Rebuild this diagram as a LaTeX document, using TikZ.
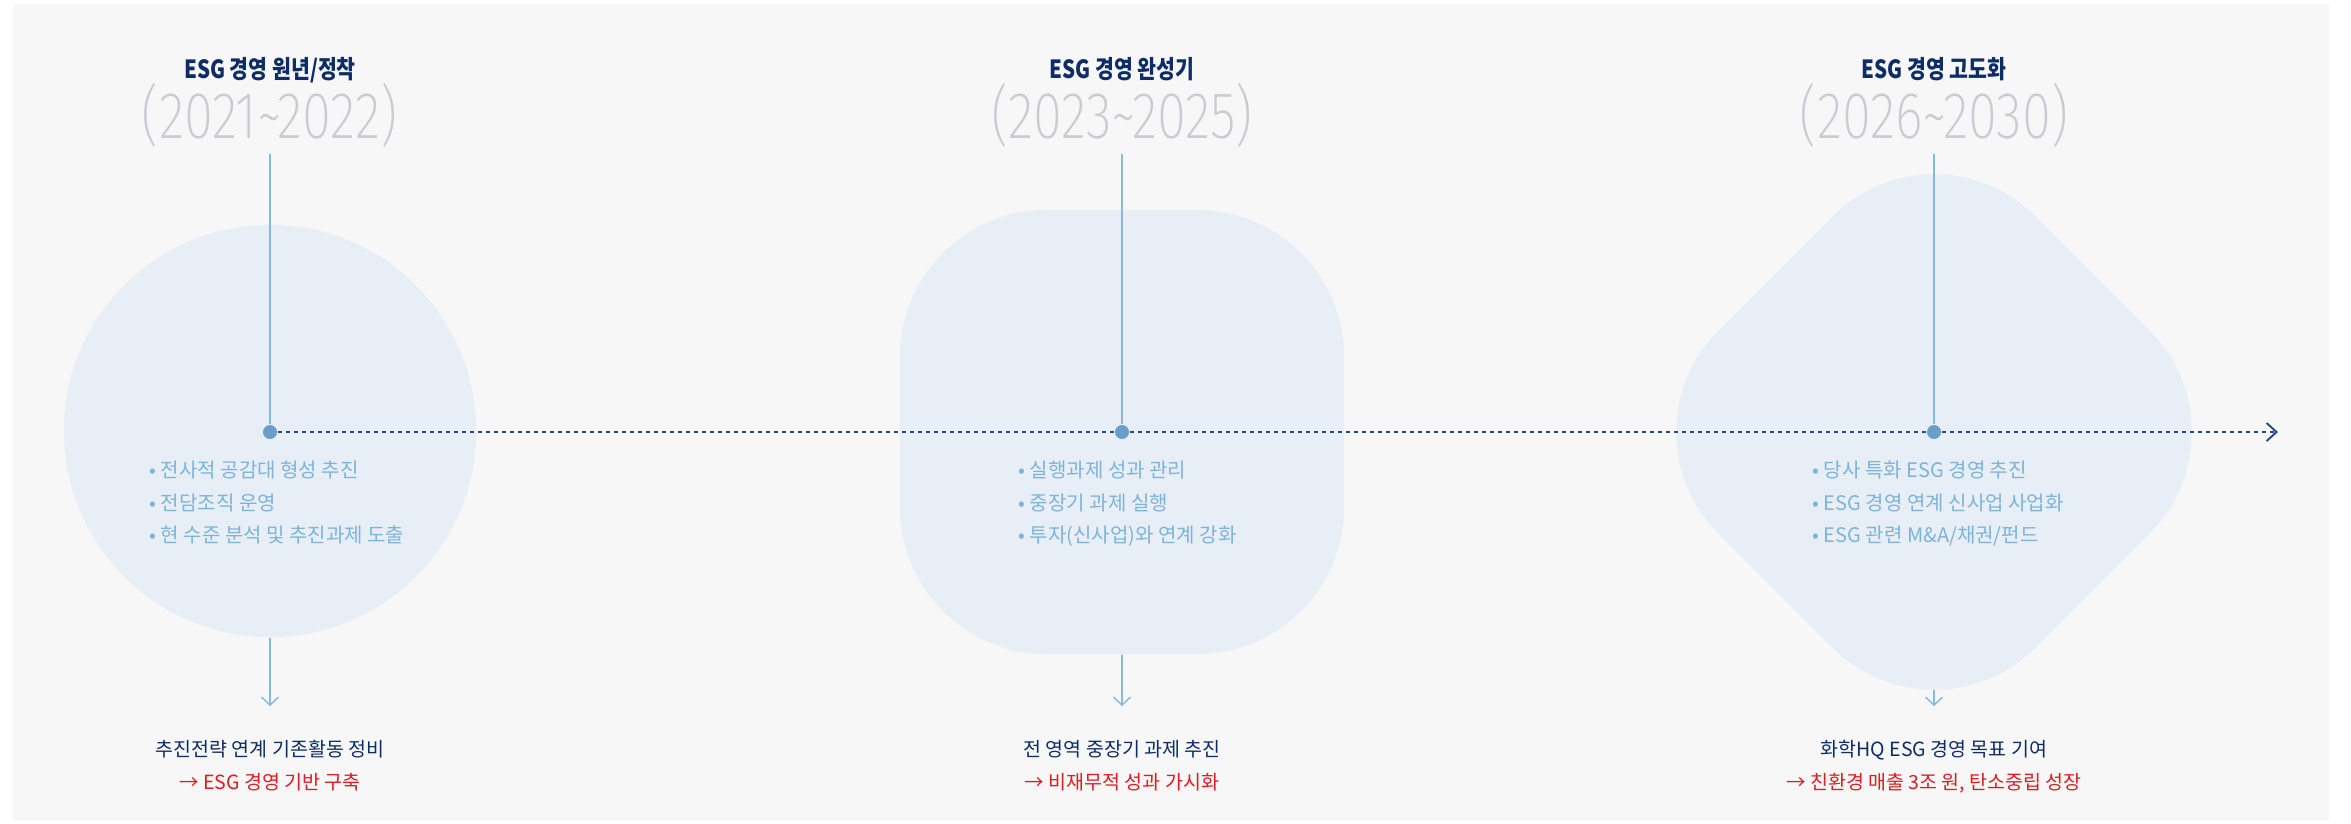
\documentclass[tikz,border=0pt]{standalone}
\usepackage{fontspec}
\setmainfont{Noto Sans CJK KR}
\newfontfamily\yearfont{Fira Sans ExtraLight}[FakeStretch=0.80]
\newfontfamily\phasefont{Noto Sans CJK KR}[FakeStretch=0.82]
\usetikzlibrary{arrows.meta,positioning}

\definecolor{panelgray}{HTML}{F7F7F7}
\definecolor{shapeblue}{HTML}{E7EEF6}
\definecolor{lineblue}{HTML}{86B9DD}
\definecolor{dotblue}{HTML}{6A9DC8}
\definecolor{navy}{HTML}{0E2D66}
\definecolor{dashnavy}{HTML}{27488A}
\definecolor{bulletblue}{HTML}{7DB4D8}
\definecolor{yeargray}{HTML}{C8CDD3}
\definecolor{goalred}{HTML}{E11B22}

\tikzset{
  phase/.style={font=\phasefont\bfseries\fontsize{0.25cm}{0.3cm}\selectfont, text=navy, inner sep=0, anchor=base},
  years/.style={font=\yearfont\fontsize{0.66cm}{0.7cm}\selectfont, text=yeargray, inner sep=0, anchor=base},
  items/.style={align=left, font=\fontsize{0.2cm}{0.32cm}\selectfont, text=bulletblue, inner sep=0, anchor=base west},
  goal/.style={align=center, font=\fontsize{0.195cm}{0.33cm}\selectfont, text=navy, inner sep=0, anchor=base},
  blob/.style={fill=shapeblue, inner sep=0},
  dot/.style={circle, fill=dotblue, minimum size=0.14cm, inner sep=0},
  vline/.style={draw=lineblue, line width=0.4pt},
  down/.style={vline, -{Straight Barb[length=0.8mm,width=1.7mm]}},
  timeline/.style={draw=dashnavy, line width=0.55pt, dash pattern=on 0.04cm off 0.04cm, -{Straight Barb[length=1mm,width=1.8mm]}}
}

\begin{document}
\begin{tikzpicture}[x=0.01cm,y=-0.01cm]
	\useasboundingbox (0,0) rectangle (2351,823);
	\fill[white] (0,0) rectangle (2351,823);
	\fill[panelgray] (13,4) rectangle (2329,821);
	
	% three phase shapes
	\node[blob, circle, minimum size=4.12cm] (s1) at (270,431) {};
	\node[blob, rounded corners=1.47cm, minimum size=4.44cm] (s2) at (1122,432) {};
	\fill[shapeblue, rounded corners=1.43cm] (1934,115) -- (2251,432) -- (1934,749) -- (1617,432) -- cycle;
	
	\coordinate (top1) at (270,154);
	\coordinate (top2) at (1122,154);
	\coordinate (top3) at (1934,154);
	\coordinate (b3) at (1934,690);
	\coordinate (e1) at (270,706);
	\coordinate (e2) at (1122,706);
	\coordinate (e3) at (1934,706);
	\coordinate (tend) at (2278,432);
	
	\node[dot] (d1) at (270,432) {};
	\node[dot] (d2) at (1122,432) {};
	\node[dot] (d3) at (1934,432) {};
	
	\draw[vline] (top1) -- (d1);
	\draw[vline] (top2) -- (d2);
	\draw[vline] (top3) -- (d3);
	\draw[down] (s1.south) -- (e1);
	\draw[down] (s2.south) -- (e2);
	\draw[down] (b3) -- (e3);
	\draw[timeline] (d1) -- (d2) -- (d3) -- (tend);
	
	% headings
	\node[phase] (t1) at (270,78) {ESG 경영 원년/정착};
	\node[phase] (t2) at (1122,78) {ESG 경영 완성기};
	\node[phase] (t3) at (1934,78) {ESG 경영 고도화};
	\node[years] (y1) at (270,138) {(2021\textasciitilde2022)};
	\node[years] (y2) at (1122,138) {(2023\textasciitilde2025)};
	\node[years] (y3) at (1934,138) {(2026\textasciitilde2030)};
	
	% tasks (anchored on the last line)
	\node[items] (l1) at (149,542) {• 전사적 공감대 형성 추진\\• 전담조직 운영\\• 현 수준 분석 및 추진과제 도출};
	\node[items] (l2) at (1018,542) {• 실행과제 성과 관리\\• 중장기 과제 실행\\• 투자(신사업)와 연계 강화};
	\node[items] (l3) at (1812,542) {• 당사 특화 ESG 경영 추진\\• ESG 경영 연계 신사업 사업화\\• ESG 관련 M\&A/채권/펀드};
	
	% results
	\node[goal] (g1) at (270,789) {추진전략 연계 기존활동 정비\\\textcolor{goalred}{→ ESG 경영 기반 구축}};
	\node[goal] (g2) at (1122,789) {전 영역 중장기 과제 추진\\\textcolor{goalred}{→ 비재무적 성과 가시화}};
	\node[goal] (g3) at (1934,789) {화학HQ ESG 경영 목표 기여\\\textcolor{goalred}{→ 친환경 매출 3조 원, 탄소중립 성장}};
\end{tikzpicture}
\end{document}
